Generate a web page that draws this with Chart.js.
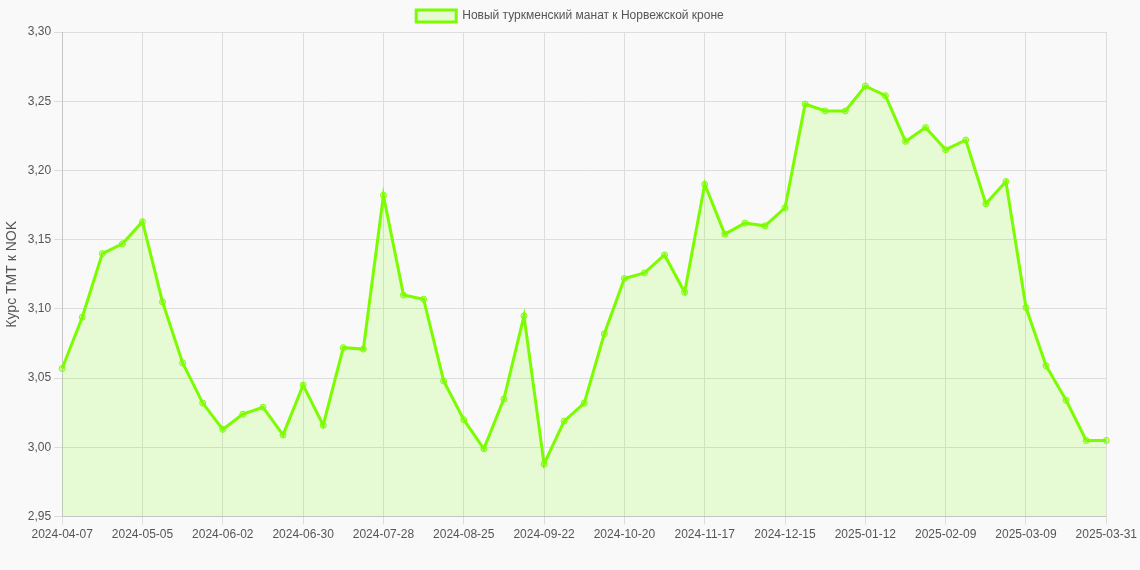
<!DOCTYPE html>
<html>
<head>
<meta charset="utf-8">
<script src="https://cdn.jsdelivr.net/npm/chart.js@4"></script>
<style>
  body { margin: 0; background: #f9f9f9; }
  #wrap { width: 1140px; height: 570px; }
</style>
</head>
<body>
<div id="wrap"><canvas id="chart"></canvas></div>
<script>
// weekly dates, last point is 2025-03-31
const dates = [
  '2024-04-07','2024-04-14','2024-04-21','2024-04-28','2024-05-05','2024-05-12','2024-05-19','2024-05-26',
  '2024-06-02','2024-06-09','2024-06-16','2024-06-23','2024-06-30','2024-07-07','2024-07-14','2024-07-21',
  '2024-07-28','2024-08-04','2024-08-11','2024-08-18','2024-08-25','2024-09-01','2024-09-08','2024-09-15',
  '2024-09-22','2024-09-29','2024-10-06','2024-10-13','2024-10-20','2024-10-27','2024-11-03','2024-11-10',
  '2024-11-17','2024-11-24','2024-12-01','2024-12-08','2024-12-15','2024-12-22','2024-12-29','2025-01-05',
  '2025-01-12','2025-01-19','2025-01-26','2025-02-02','2025-02-09','2025-02-16','2025-02-23','2025-03-02',
  '2025-03-09','2025-03-16','2025-03-23','2025-03-30','2025-03-31'
]
const rates = [
  3.057, 3.094, 3.140, 3.147, 3.163, 3.105, 3.061, 3.032, 3.013, 3.024, 3.029, 3.009, 3.045,
  3.016, 3.072, 3.071, 3.182, 3.110, 3.107, 3.048, 3.020, 2.999, 3.035, 3.095, 2.988, 3.019,
  3.032, 3.082, 3.122, 3.126, 3.139, 3.112, 3.190, 3.154, 3.162, 3.160, 3.173, 3.248, 3.243,
  3.243, 3.261, 3.254, 3.221, 3.231, 3.215, 3.222, 3.176, 3.192, 3.101, 3.059, 3.034, 3.005, 3.005
]

new Chart(document.getElementById('chart').getContext('2d'), {
    type: 'line',
    data: {
        labels: dates,
        datasets: [{
            label: 'Новый туркменский манат к Норвежской кроне',
            data: rates,
            borderColor: '#7cfc00',
            backgroundColor: 'rgba(124, 252, 0, 0.15)',
            fill: true,
            borderWidth: 3,
            pointRadius: 3,
            pointBackgroundColor: 'rgba(124, 252, 0, 0.3)',
            pointBorderColor: '#7cfc00',
            pointBorderWidth: 1,
            tension: 0
        }]
    },
    options: {
        responsive: true,
        maintainAspectRatio: false,
        animation: false,
        layout: { padding: { bottom: 25 } },
        plugins: {
            legend: {
                labels: { font: { family: 'Liberation Sans, Arial', size: 12 }, color: '#555' }
            }
        },
        scales: {
            x: {
                grid: { color: '#dddddd' },
                ticks: {
                    autoSkip: false,
                    maxRotation: 0,
                    color: '#555',
                    font: { family: 'Liberation Sans, Arial', size: 12 },
                    callback: function (v, i) {
                        return (i % 4 === 0 || i === dates.length - 1) ? dates[i] : null
                    }
                }
            },
            y: {
                min: 2.95,
                max: 3.30,
                grid: { color: '#dddddd' },
                title: { display: true, text: 'Курс TMT к NOK', color: '#555', font: { family: 'Liberation Sans, Arial', size: 14 } },
                ticks: {
                    stepSize: 0.05,
                    color: '#555',
                    font: { family: 'Liberation Sans, Arial', size: 12 },
                    callback: v => v.toFixed(2).replace('.', ',')
                }
            }
        }
    }
});
</script>
</body>
</html>
